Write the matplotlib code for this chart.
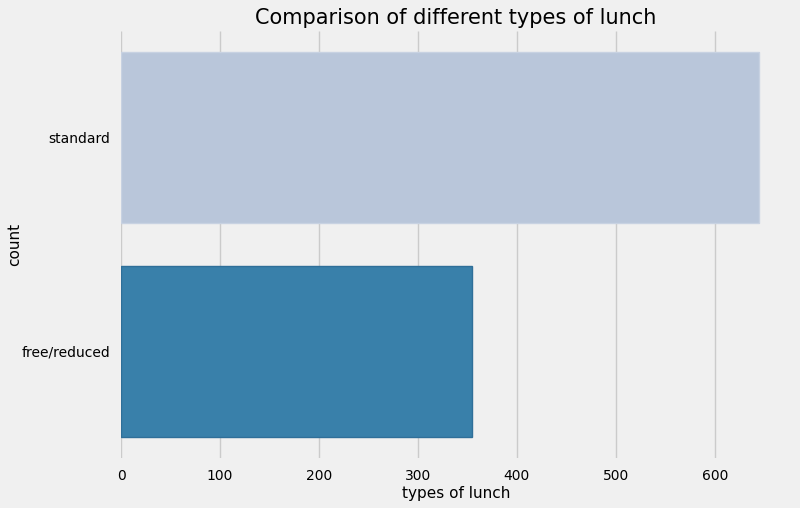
import matplotlib
matplotlib.use("Agg")
import matplotlib.pyplot as plt

plt.style.use("fivethirtyeight")

categories = ["standard", "free/reduced"]
counts = [645, 355]
colors = ["#b9c6da", "#3980aa"]

fig = plt.figure(figsize=(8, 5.08), dpi=100)
ax = fig.add_axes([121/800, 1 - 458/508, 670/800, 427/508])
ypos = list(range(len(categories)))
ax.barh(ypos, counts, height=0.8, color=colors, edgecolor=["#c8d2e2", "#2f6f99"],
        linewidth=1, zorder=3)
ax.set_yticks(ypos)
ax.set_yticklabels(categories)
ax.set_ylim(1.5, -0.5)
ax.set_xlim(0, 677)
ax.set_xticks([0, 100, 200, 300, 400, 500, 600])
ax.grid(True, axis="x", color="#cbcbcb", linewidth=1)
ax.grid(False, axis="y")
ax.tick_params(axis="both", labelsize=10, length=0)
ax.tick_params(axis="x", pad=8)
ax.tick_params(axis="y", pad=8)
ax.set_xlabel("types of lunch", fontsize=11, labelpad=2)
ax.set_ylabel("count", fontsize=11)
ax.yaxis.set_label_coords(-0.148, 0.5)
ax.set_title("Comparison of different types of lunch", fontsize=15, pad=5)
for s in ax.spines.values():
    s.set_visible(False)
fig.savefig("out.png", dpi=100, facecolor="#f0f0f0")
